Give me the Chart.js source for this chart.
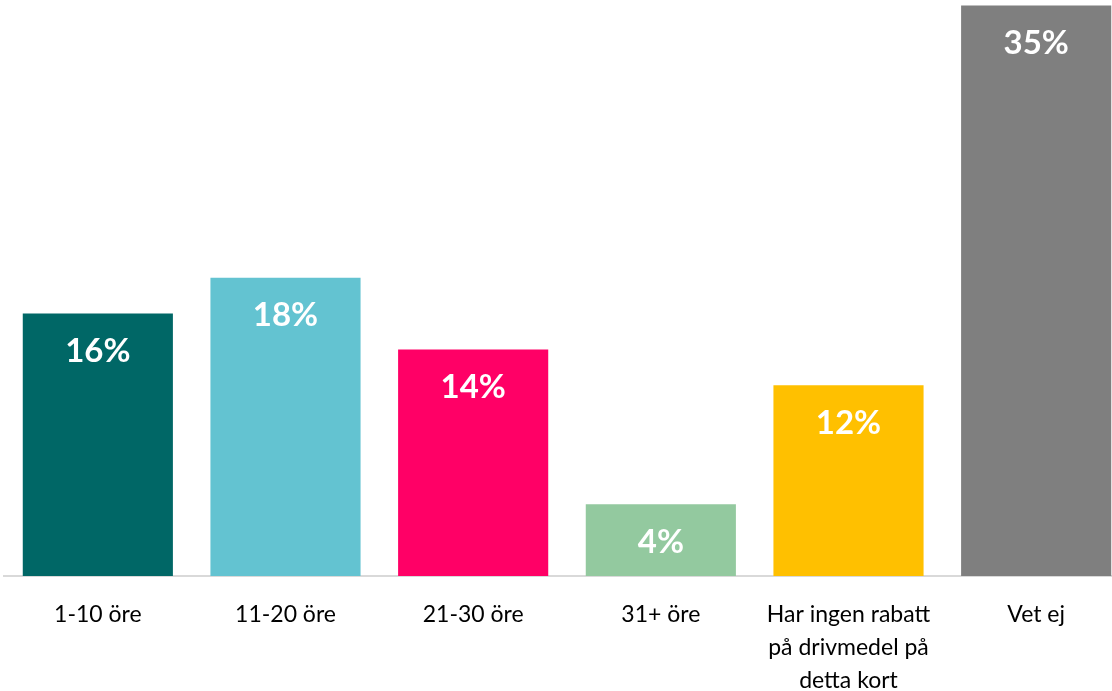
<!DOCTYPE html>
<html lang="sv">
<head>
    <meta charset="UTF-8">
    <title>Rabatt på drivmedel</title>
    <script src="https://cdn.jsdelivr.net/npm/chart.js"></script>
    <style>
        html, body { margin: 0; padding: 0; overflow: hidden; background: #fff; }
        canvas { display: block; }
    </style>
</head>
<body>
    <canvas id="rabattChart" width="1130" height="691"></canvas>

    <script>
// Data
const categories = [
    '1-10 öre',
    '11-20 öre',
    '21-30 öre',
    '31+ öre',
    ['Har ingen rabatt', 'på drivmedel på', 'detta kort'],
    'Vet ej'
];
const shares = [16.1, 18.3, 13.9, 4.4, 11.7, 35.0];
const barColors = ['#006766', '#63c3d1', '#ff0066', '#93c99f', '#ffc000', '#7f7f7f'];

const fontFamily = 'Lato, "Open Sans", sans-serif';

// white percentage labels inside the top of each bar
const barLabels = {
    id: 'barLabels',
    afterDatasetsDraw(chart) {
        const ctx = chart.ctx;
        const meta = chart.getDatasetMeta(0);
        ctx.save();
        ctx.fillStyle = '#ffffff';
        ctx.font = 'bold 33px ' + fontFamily;
        ctx.textAlign = 'center';
        ctx.textBaseline = 'middle';
        meta.data.forEach((bar, i) => {
            ctx.fillText(Math.round(shares[i]) + '%', bar.x, bar.y + 38);
        });
        ctx.restore();
    }
};

const ctx = document.getElementById('rabattChart').getContext('2d');
const chart = new Chart(ctx, {
    type: 'bar',
    data: {
        labels: categories,
        datasets: [{
            data: shares,
            backgroundColor: barColors,
            barPercentage: 0.8,
            categoryPercentage: 1.0,
        }],
    },
    options: {
        responsive: false,
        animation: false,
        layout: { padding: { left: 4, right: 0, top: 0, bottom: 0 } },
        plugins: {
            legend: { display: false },
            tooltip: { enabled: false },
        },
        scales: {
            x: {
                grid: { display: false, drawTicks: false },
                border: { display: true, color: '#d9d9d9', width: 2 },
                ticks: {
                    color: '#000000',
                    font: { family: fontFamily, size: 23, lineHeight: 1.43 },
                    padding: 22,
                    maxRotation: 0,
                    autoSkip: false,
                },
                afterFit(scale) { scale.height = 115; },
            },
            y: {
                display: false,
                min: 0,
                max: 35.34,
            },
        },
    },
    plugins: [barLabels],
});
    </script>
</body>
</html>
